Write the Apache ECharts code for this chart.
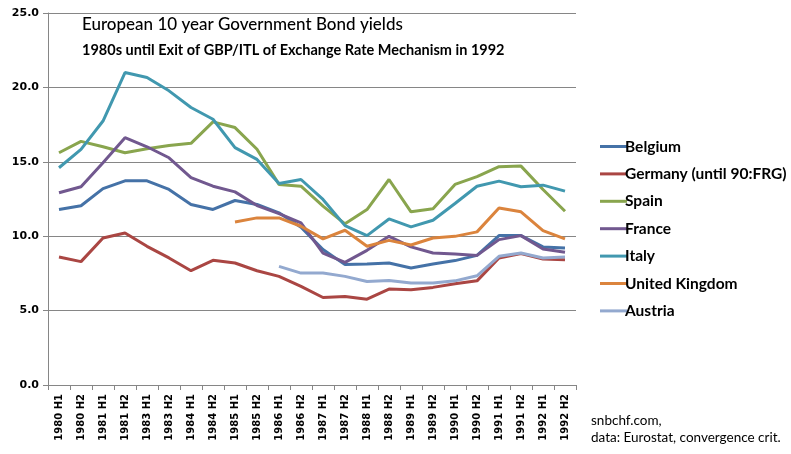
<!DOCTYPE html>
<html><head><meta charset="utf-8">
<script src="https://cdn.jsdelivr.net/npm/echarts@6/dist/echarts.min.js"></script>
<style>html,body{margin:0;padding:0;background:#fff}#c{width:791px;height:454px}</style>
</head><body><div id="c"></div>
<script>
const categories = ["1980 H1","1980 H2","1981 H1","1981 H2","1983 H1","1983 H2","1984 H1","1984 H2","1985 H1","1985 H2","1986 H1","1986 H2","1987 H1","1987 H2","1988 H1","1988 H2","1989 H1","1989 H2","1990 H1","1990 H2","1991 H1","1991 H2","1992 H1","1992 H2"];
const belgium = [11.8,12.05,13.2,13.72,13.72,13.14,12.13,11.8,12.4,12.13,11.57,10.6,9.1,8.09,8.13,8.2,7.86,8.13,8.36,8.71,10.04,10.04,9.28,9.21];
const germany = [8.6,8.29,9.88,10.22,9.32,8.54,7.68,8.38,8.2,7.68,7.3,6.63,5.88,5.95,5.77,6.45,6.4,6.56,6.8,7.0,8.54,8.83,8.47,8.42];
const spain = [15.61,16.37,16.01,15.61,15.88,16.1,16.24,17.68,17.3,15.84,13.48,13.36,12.02,10.83,11.79,13.81,11.64,11.84,13.48,14.0,14.67,14.71,13.14,11.68];
const france = [12.92,13.32,14.94,16.62,16.01,15.27,13.93,13.36,12.98,12.06,11.52,10.9,8.87,8.24,9.05,9.99,9.28,8.87,8.8,8.71,9.77,10.04,9.14,8.92];
const italy = [14.6,15.84,17.74,21.0,20.67,19.77,18.65,17.86,15.95,15.16,13.54,13.81,12.47,10.71,10.04,11.16,10.63,11.07,12.2,13.36,13.7,13.32,13.43,13.03];
const uk = [null,null,null,null,null,null,null,null,10.96,11.23,11.23,10.67,9.82,10.4,9.32,9.72,9.41,9.88,9.99,10.29,11.9,11.64,10.38,9.82];
const austria = [null,null,null,null,null,null,null,null,null,null,7.97,7.52,7.52,7.3,6.96,7.03,6.85,6.85,7.0,7.34,8.65,8.87,8.54,8.6];
const seriesNames = ["Belgium","Germany (until 90:FRG)","Spain","France","Italy","United Kingdom","Austria"];
const seriesData = [belgium,germany,spain,france,italy,uk,austria];
const colors = ["#4572A7","#AA4643","#89A54E","#71588F","#4198AF","#DB843D","#93A9CF"];

const chart = echarts.init(document.getElementById('c'), null, {renderer:'canvas'});
const axisGray = '#868686';
chart.setOption({
  animation:false,
  backgroundColor:'#fff',
  color: colors,
  title:[
    {text:'European 10 year Government Bond yields', left:77, top:11,
     textStyle:{fontFamily:'Lato', fontSize:17, fontWeight:500, color:'#000'}},
    {text:'1980s until Exit of GBP/ITL of Exchange Rate Mechanism in 1992', left:77, top:38,
     textStyle:{fontFamily:'Lato', fontSize:14.5, fontWeight:'bold', color:'#000'}}
  ],
  graphic:[
    {type:'text', left:591, top:412, style:{text:'snbchf.com,\ndata: Eurostat, convergence crit.', font:'13.5px Lato', fill:'#000', lineHeight:17}}
  ],
  legend:{
    orient:'vertical', left:595, top:133, itemGap:10.4, itemWidth:27, itemHeight:17,
    icon:'path://M0,7 L27,7 L27,10 L0,10 Z',
    textStyle:{fontFamily:'Lato', fontSize:15.5, fontWeight:'bold', color:'#000', padding:[0,0,0,-7], lineHeight:17},
    data: seriesNames
  },
  grid:{left:48, right:215, top:13, bottom:69, containLabel:false},
  xAxis:{
    type:'category', data:categories, boundaryGap:true,
    axisLine:{lineStyle:{color:axisGray}},
    axisTick:{show:true, alignWithLabel:false, length:5, lineStyle:{color:axisGray}},
    axisLabel:{rotate:90, interval:0, fontFamily:'DejaVu Sans', fontSize:10, fontWeight:'bold', color:'#000', margin:9}
  },
  yAxis:{
    type:'value', min:0, max:25, interval:5,
    axisLine:{show:true, lineStyle:{color:axisGray}},
    axisTick:{show:true, length:5, lineStyle:{color:axisGray}},
    splitLine:{lineStyle:{color:axisGray, width:1}},
    axisLabel:{formatter:v=>v.toFixed(1), fontFamily:'DejaVu Sans', fontSize:11, fontWeight:'bold', color:'#000', margin:9}
  },
  series: seriesNames.map((n,i)=>({
    name:n, type:'line', data:seriesData[i], symbol:'none', connectNulls:false,
    lineStyle:{width:3, color:colors[i]}, itemStyle:{color:colors[i]}
  }))
});
</script></body></html>
